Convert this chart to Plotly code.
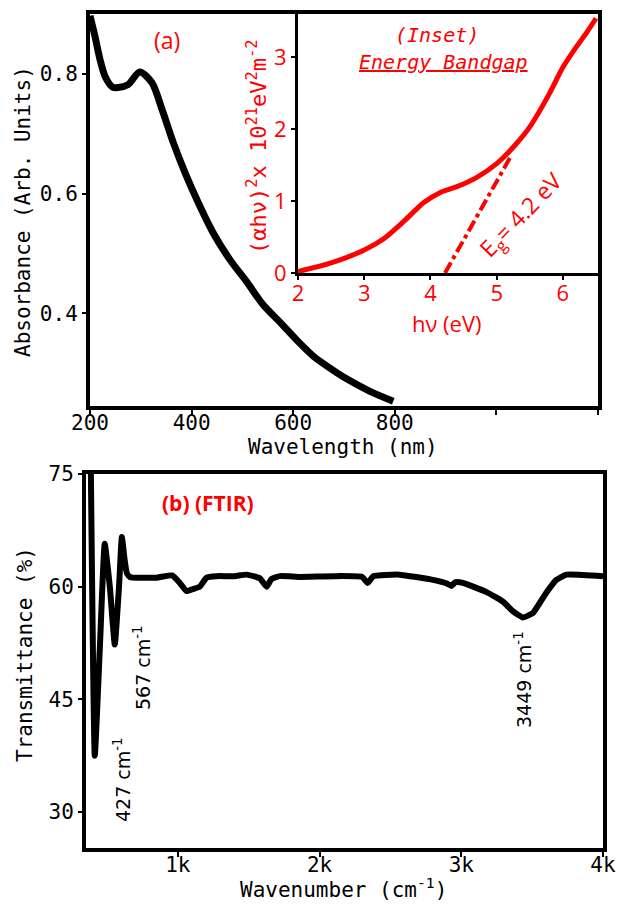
import plotly.graph_objects as go

# ---------------- data ----------------
wavelength_nm = [200, 210, 220, 230, 244, 255, 275, 298, 322, 342, 364, 387, 413,
                 442, 475, 509, 540, 574, 607, 640, 673, 706, 750, 797]
absorbance = [0.897, 0.862, 0.823, 0.795, 0.778, 0.777, 0.782, 0.803, 0.785, 0.74,
              0.685, 0.635, 0.585, 0.535, 0.49, 0.452, 0.415, 0.385, 0.355, 0.328,
              0.308, 0.29, 0.27, 0.253]

photon_energy_ev = [2.0, 2.5, 3.0, 3.3, 3.6, 3.9, 4.15, 4.4, 4.7, 5.0, 5.3, 5.5, 5.8,
                    6.0, 6.2, 6.35, 6.5]
tauc_value = [0.02, 0.14, 0.32, 0.48, 0.72, 0.98, 1.12, 1.2, 1.33, 1.52, 1.8, 2.03,
              2.5, 2.86, 3.14, 3.33, 3.54]

tangent_energy = [4.22, 5.2]
tangent_value = [0.0, 1.6]

wavenumber = [386, 414, 450, 484, 520, 555, 585, 605, 625, 640, 661, 682, 852, 960,
              1014, 1061, 1110, 1155, 1203, 1273, 1400, 1485, 1580, 1626, 1660, 1720,
              1858, 2100, 2300, 2340, 2380, 2564, 2800, 2900, 2929, 2960, 3012, 3176,
              3294, 3365, 3435, 3506, 3600, 3671, 3742, 4000]
transmittance = [76.0, 37.5, 52.0, 65.7, 60.0, 52.3, 60.0, 66.6, 63.5, 61.8, 61.3,
                 61.2, 61.2, 61.5, 60.5, 59.4, 59.7, 60.0, 61.2, 61.4, 61.4, 61.6,
                 61.1, 60.0, 61.0, 61.4, 61.3, 61.4, 61.3, 60.5, 61.4, 61.6, 60.9,
                 60.4, 60.1, 60.6, 60.5, 59.3, 58.0, 56.7, 55.9, 56.5, 59.2, 60.9,
                 61.6, 61.4]

abs_ticks = [0.4, 0.6, 0.8]
wl_ticks = [200, 400, 600, 800, 1000, 1200]
wl_ticktext = ["200", "400", "600", "800", "", ""]
ev_ticks = [2, 3, 4, 5, 6]
tauc_ticks = [0, 1, 2, 3]
wn_ticks = [1000, 2000, 3000, 4000]
wn_ticktext = ["1k", "2k", "3k", "4k"]
tr_ticks = [30, 45, 60, 75]

# ---------------- figure ----------------
W, H = 619, 904


def px(x):
    return x / W


def py(y):
    return 1 - y / H


RED = "#ff0000"
MONO = "DejaVu Sans Mono"
SANS = "Open Sans"

fig = go.Figure()

fig.add_trace(go.Scatter(x=wavelength_nm, y=absorbance, mode="lines",
                         line=dict(color="black", width=7, shape="spline", smoothing=0.8),
                         xaxis="x", yaxis="y", showlegend=False))
fig.add_trace(go.Scatter(x=photon_energy_ev, y=tauc_value, mode="lines",
                         line=dict(color=RED, width=5, shape="spline", smoothing=0.8),
                         xaxis="x3", yaxis="y3", showlegend=False))
fig.add_trace(go.Scatter(x=tangent_energy, y=tangent_value, mode="lines",
                         line=dict(color=RED, width=4, dash="dashdot"),
                         xaxis="x3", yaxis="y3", showlegend=False))
fig.add_trace(go.Scatter(x=wavenumber, y=transmittance, mode="lines",
                         line=dict(color="black", width=6, shape="spline", smoothing=0.4),
                         xaxis="x2", yaxis="y2", showlegend=False))

axis_common = dict(showline=True, linecolor="black", mirror=True, showgrid=False,
                   zeroline=False, ticks="outside", tickcolor="black", automargin=False)

fig.update_layout(
    width=W, height=H,
    margin=dict(l=0, r=0, t=0, b=0, autoexpand=False),
    paper_bgcolor="white", plot_bgcolor="white",
    xaxis=dict(domain=[px(90), px(598)], anchor="y", range=[200, 1200],
               tickvals=wl_ticks, ticktext=wl_ticktext, linewidth=4, ticklen=5, tickwidth=2,
               ticklabelstandoff=-10,
               tickfont=dict(family=MONO, size=21, color="black"), **axis_common),
    yaxis=dict(domain=[py(406), py(14)], anchor="x", range=[0.245, 0.9],
               tickvals=abs_ticks, ticktext=["0.4", "0.6", "0.8"], linewidth=4, ticklen=4,
               tickwidth=2, tickfont=dict(family=MONO, size=21, color="black"), **axis_common),
    xaxis3=dict(domain=[px(298), px(598)], anchor="y3", range=[2, 6.53],
                tickvals=ev_ticks, linewidth=3, ticklen=4, tickwidth=2, ticklabelstandoff=-5,
                tickfont=dict(family=SANS, size=22, color=RED), **axis_common),
    yaxis3=dict(domain=[py(273), py(14)], anchor="x3", range=[0, 3.6],
                tickvals=tauc_ticks, linewidth=3, ticklen=4, tickwidth=2,
                tickfont=dict(family=SANS, size=22, color=RED), **axis_common),
    xaxis2=dict(domain=[px(86), px(603)], anchor="y2", range=[352, 4000],
                tickvals=wn_ticks, ticktext=wn_ticktext, linewidth=4, ticklen=5, tickwidth=2,
                ticklabelstandoff=-10,
                tickfont=dict(family=MONO, size=21, color="black"), **axis_common),
    yaxis2=dict(domain=[py(848), py(474)], anchor="x2", range=[25.2, 75],
                tickvals=tr_ticks, linewidth=4, ticklen=4, tickwidth=2,
                tickfont=dict(family=MONO, size=21, color="black"), **axis_common),
)

ann = []


def add(text, x, y, size, color="black", family=MONO, angle=0, **kw):
    ann.append(dict(text=text, x=px(x), y=py(y), xref="paper", yref="paper",
                    showarrow=False, textangle=angle, xanchor="center", yanchor="middle",
                    font=dict(family=family, size=size, color=color, **kw)))


add("Absorbance (Arb. Units)", 23, 212, 21, angle=-90)
add("Wavelength (nm)", 343, 447, 21)
add("Transmittance (%)", 25, 655, 21, angle=-90)
add("Wavenumber (cm<sup>-1</sup>)", 343, 888, 21)
add("(αhν)<sup>2</sup>x 10<sup>21</sup>eV<sup>2</sup>m<sup>-2</sup>", 257, 147, 22,
    color=RED, angle=-90)
add("hν (eV)", 447, 323, 22, color=RED, family=SANS)
add("(a)", 167, 40, 23, color=RED, family=SANS)
add("<b>(b) (FTIR)</b>", 208, 503, 21, color=RED, family=SANS)
add("<i>(Inset)</i>", 437, 35, 20, color=RED)
add("<i>Energy Bandgap</i>", 443, 62, 20, color=RED, lineposition="under")
add("E<sub>g</sub>= 4.2 eV", 521, 215, 23, color=RED, family=SANS, angle=-46)
add("427 cm<sup>-1</sup>", 122, 780, 19, family="DejaVu Sans", angle=-90)
add("567 cm<sup>-1</sup>", 142, 668, 19, family="DejaVu Sans", angle=-90)
add("3449 cm<sup>-1</sup>", 523, 680, 19, family="DejaVu Sans", angle=-90)

fig.update_layout(annotations=ann)

fig.write_html("out.html", config={"displayModeBar": False},
               post_script="document.body.style.margin='0';document.body.style.overflow='hidden';")
